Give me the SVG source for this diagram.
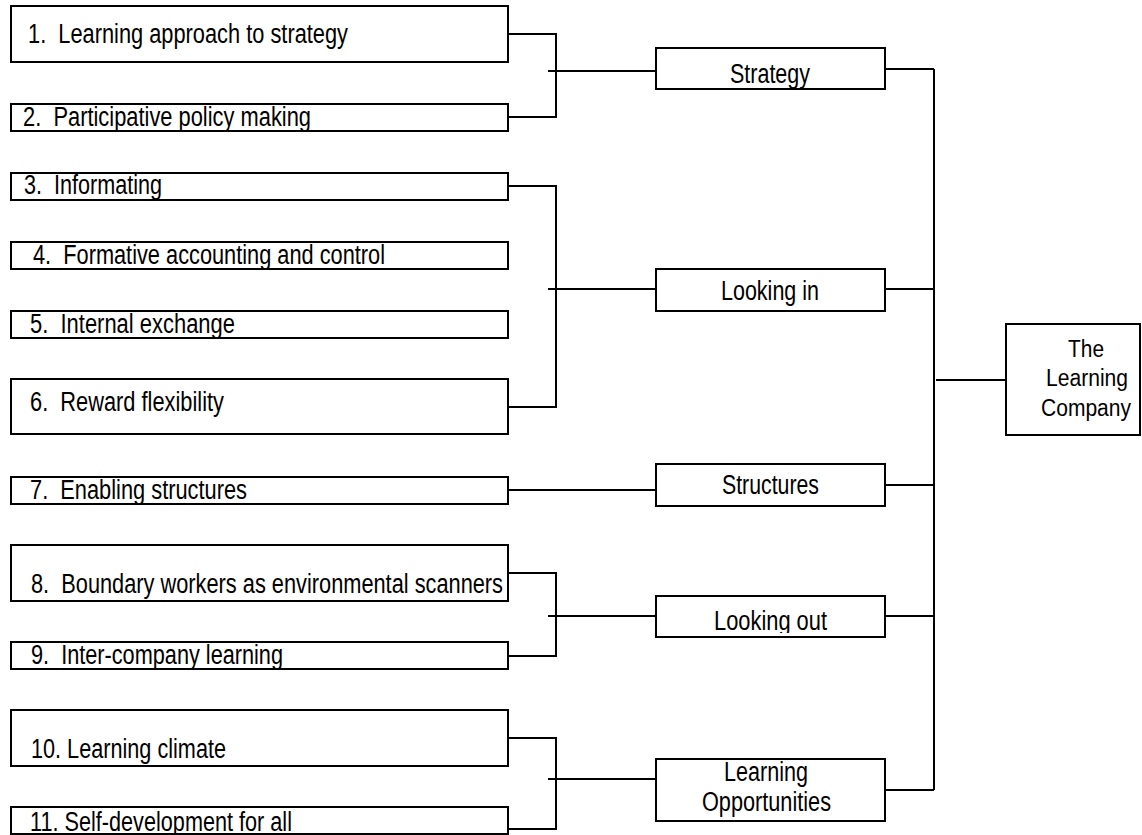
<svg xmlns="http://www.w3.org/2000/svg" width="1142" height="835" viewBox="0 0 1142 835">
<style>
.box{fill:#fff;stroke:#000;stroke-width:2}
.t{font-family:"Liberation Sans Narrow","Liberation Sans",Arial,sans-serif;font-size:27px;fill:#000;white-space:pre}
.s{font-size:23px}
.ln{fill:none;stroke:#000;stroke-width:2}
</style>
<defs>
<clipPath id="clipLO"><rect x="656" y="596" width="229" height="37"/></clipPath>
</defs>
<rect width="1142" height="835" fill="#fff"/>
<g id="connectors" class="ln">
<path d="M508 34H556V117H508M548 71H656"/>
<path d="M508 186H556V407H508M548 289H656"/>
<path d="M508 490H656"/>
<path d="M508 573H556V656H508M548 616H656"/>
<path d="M508 738H556V829H508M548 779H656"/>
<path d="M885 69H934M885 289H934M885 485H934M885 616H934M885 790H934M934 69V790M936 380H1006"/>
</g>
<g id="n1"><rect class="box" x="11" y="6" width="497" height="56"/><text class="t" x="28" y="43" textLength="320" lengthAdjust="spacingAndGlyphs">1.  Learning approach to strategy</text></g>
<g id="n2"><rect class="box" x="11" y="104" width="497" height="27"/><text class="t" x="23" y="126" textLength="288" lengthAdjust="spacingAndGlyphs">2.  Participative policy making</text></g>
<g id="n3"><rect class="box" x="11" y="173" width="497" height="27"/><text class="t" x="24" y="194" textLength="138" lengthAdjust="spacingAndGlyphs">3.  Informating</text></g>
<g id="n4"><rect class="box" x="11" y="242" width="497" height="27"/><text class="t" x="33" y="264" textLength="352" lengthAdjust="spacingAndGlyphs">4.  Formative accounting and control</text></g>
<g id="n5"><rect class="box" x="11" y="311" width="497" height="27"/><text class="t" x="30" y="333" textLength="205" lengthAdjust="spacingAndGlyphs">5.  Internal exchange</text></g>
<g id="n6"><rect class="box" x="11" y="379" width="497" height="55"/><text class="t" x="30" y="411" textLength="194" lengthAdjust="spacingAndGlyphs">6.  Reward flexibility</text></g>
<g id="n7"><rect class="box" x="11" y="477" width="497" height="27"/><text class="t" x="30" y="499" textLength="217" lengthAdjust="spacingAndGlyphs">7.  Enabling structures</text></g>
<g id="n8"><rect class="box" x="11" y="545" width="497" height="56"/><text class="t" x="31" y="593" textLength="472" lengthAdjust="spacingAndGlyphs">8.  Boundary workers as environmental scanners</text></g>
<g id="n9"><rect class="box" x="11" y="642" width="497" height="27"/><text class="t" x="31" y="664" textLength="252" lengthAdjust="spacingAndGlyphs">9.  Inter-company learning</text></g>
<g id="n10"><rect class="box" x="11" y="710" width="497" height="56"/><text class="t" x="31" y="758" textLength="195" lengthAdjust="spacingAndGlyphs">10. Learning climate</text></g>
<g id="n11"><rect class="box" x="11" y="807" width="497" height="27"/><text class="t" x="30" y="831" textLength="262" lengthAdjust="spacingAndGlyphs">11. Self-development for all</text></g>
<g id="strategy"><rect class="box" x="656" y="48" width="229" height="41"/><text class="t" x="730" y="83" textLength="80" lengthAdjust="spacingAndGlyphs">Strategy</text></g>
<g id="lookingin"><rect class="box" x="656" y="269" width="229" height="42"/><text class="t" x="721" y="300" textLength="98" lengthAdjust="spacingAndGlyphs">Looking in</text></g>
<g id="structures"><rect class="box" x="656" y="464" width="229" height="42"/><text class="t" x="722" y="494" textLength="97" lengthAdjust="spacingAndGlyphs">Structures</text></g>
<g id="lookingout"><rect class="box" x="656" y="596" width="229" height="41"/><text class="t" x="714" y="630" textLength="113" lengthAdjust="spacingAndGlyphs" clip-path="url(#clipLO)">Looking out</text></g>
<g id="opportunities"><rect class="box" x="656" y="759" width="229" height="62"/><text class="t" x="724" y="781" textLength="84" lengthAdjust="spacingAndGlyphs">Learning</text><text class="t" x="702" y="811" textLength="129" lengthAdjust="spacingAndGlyphs">Opportunities</text></g>
<g id="company"><rect class="box" x="1006" y="324" width="134" height="111"/><text class="t s" x="1068" y="357" textLength="36" lengthAdjust="spacingAndGlyphs">The</text><text class="t s" x="1046" y="386" textLength="82" lengthAdjust="spacingAndGlyphs">Learning</text><text class="t s" x="1041" y="416" textLength="90" lengthAdjust="spacingAndGlyphs">Company</text></g>
</svg>
